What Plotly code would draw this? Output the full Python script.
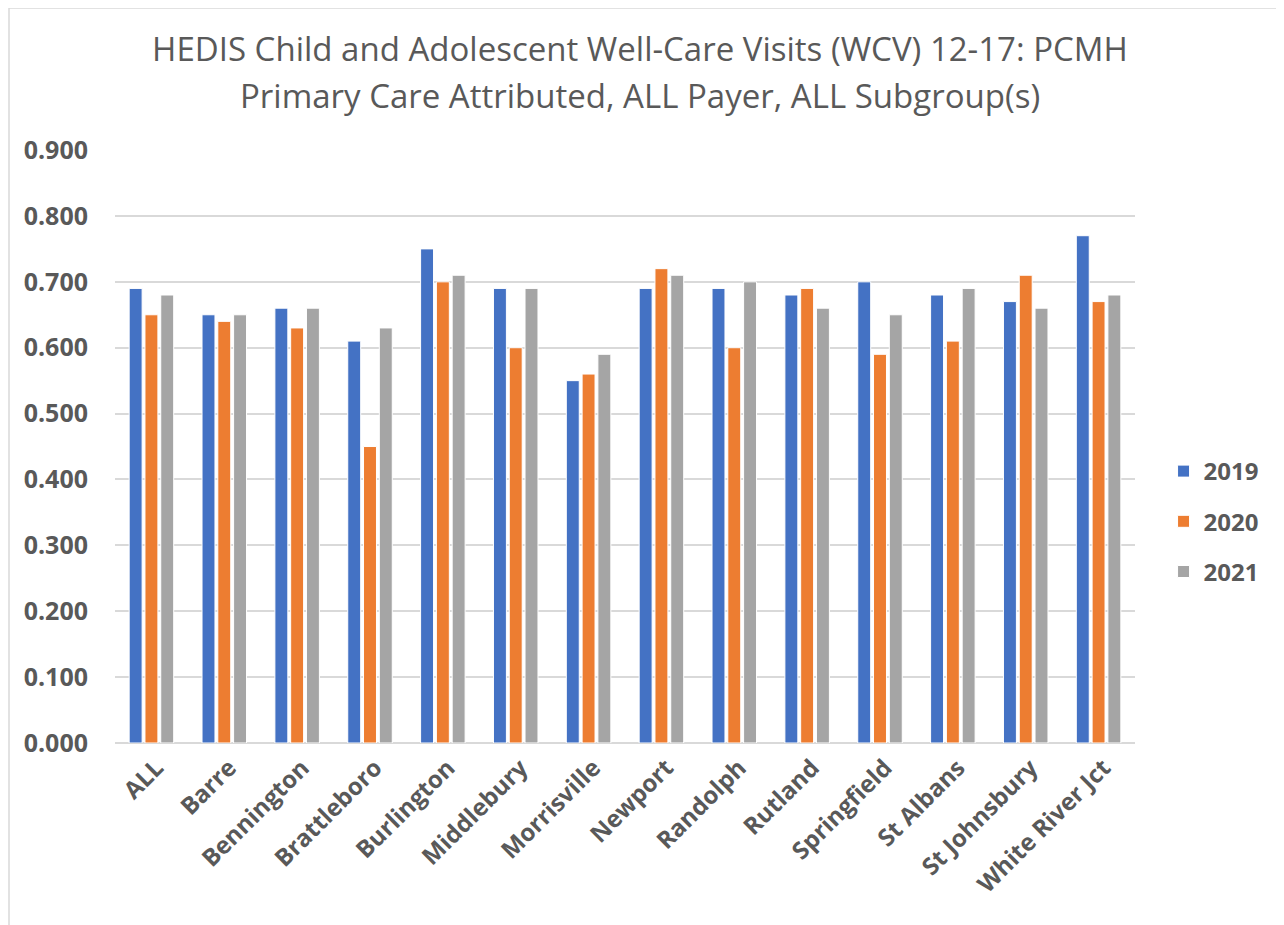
import plotly.graph_objects as go

# HEDIS WCV 12-17 rates by health service area
areas = ['ALL', 'Barre', 'Bennington', 'Brattleboro', 'Burlington', 'Middlebury',
         'Morrisville', 'Newport', 'Randolph', 'Rutland', 'Springfield',
         'St Albans', 'St Johnsbury', 'White River Jct']
rate_2019 = [0.69, 0.65, 0.66, 0.61, 0.75, 0.69, 0.55, 0.69, 0.69, 0.68, 0.70, 0.68, 0.67, 0.77]
rate_2020 = [0.65, 0.64, 0.63, 0.45, 0.70, 0.60, 0.56, 0.72, 0.60, 0.69, 0.59, 0.61, 0.71, 0.67]
rate_2021 = [0.68, 0.65, 0.66, 0.63, 0.71, 0.69, 0.59, 0.71, 0.70, 0.66, 0.65, 0.69, 0.66, 0.68]
y_ticks = [0.0, 0.1, 0.2, 0.3, 0.4, 0.5, 0.6, 0.7, 0.8, 0.9]

series = [('2019', rate_2019, '#4472C4'),
          ('2020', rate_2020, '#ED7D31'),
          ('2021', rate_2021, '#A5A5A5')]

txt = '#595959'

fig = go.Figure()
for name, vals, col in series:
    fig.add_trace(go.Bar(
        x=areas, y=vals, name=name, legendgroup=name,
        marker=dict(color=col, line=dict(color='white', width=1)),
    ))

# page is drawn with an 8px body margin, so the figure is 8px smaller each way
W, H = 1276, 917
fig.update_layout(
    width=W, height=H,
    autosize=False,
    margin=dict(l=107, r=149, t=142, b=182),
    paper_bgcolor='white', plot_bgcolor='white',
    barmode='group', bargap=0.35, bargroupgap=0.18,
    title=dict(
        text='HEDIS Child and Adolescent Well-Care Visits (WCV) 12-17: PCMH',
        x=(640 - 8) / W, xanchor='center', xref='container',
        y=1 - 41 / H, yanchor='middle', yref='container',
        font=dict(family='Open Sans', size=33, color=txt),
    ),
    font=dict(family='Open Sans', color=txt),
    legend=dict(
        x=1.028, xanchor='left', y=0.3735, yanchor='middle',
        font=dict(family='Open Sans', size=24, color=txt, weight='bold'),
        tracegroupgap=16, itemwidth=30,
    ),
    showlegend=True,
)
# second title line, placed separately to get the wider line spacing
fig.add_annotation(
    text='Primary Care Attributed, ALL Payer, ALL Subgroup(s)',
    xref='paper', yref='paper', x=(632 - 107) / 1020, y=1 + (142 - 87) / 593,
    xanchor='center', yanchor='middle', showarrow=False,
    font=dict(family='Open Sans', size=33, color=txt),
)
fig.update_yaxes(
    range=[0, 0.9001], tickvals=y_ticks, tickformat='.3f',
    showgrid=True, gridcolor='#d9d9d9', gridwidth=1.5,
    zeroline=True, zerolinecolor='#d9d9d9', zerolinewidth=1.5,
    showline=False, ticks='', ticklabelstandoff=26,
    tickfont=dict(family='Open Sans', size=25, color=txt, weight='bold'),
)
fig.update_xaxes(
    tickangle=-45, showgrid=False, showline=False, ticks='',
    ticklabelstandoff=5, ticklabelshift=5,
    tickfont=dict(family='Open Sans', size=24, color=txt, weight='bold'),
)

# chart area border (left and top edges visible in the frame)
fig.add_shape(type='rect', xref='paper', yref='paper',
              x0=-106 / 1020, x1=1180 / 1020,
              y0=-200 / 593, y1=735 / 593,
              line=dict(color='#d9d9d9', width=1.5), fillcolor='rgba(0,0,0,0)',
              layer='below')

fig.write_html('out.html')
